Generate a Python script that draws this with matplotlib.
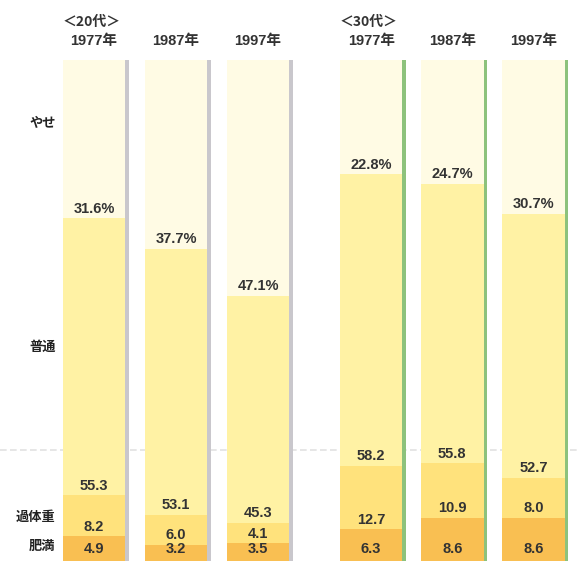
import matplotlib
matplotlib.use("Agg")
import matplotlib.pyplot as plt
import numpy as np

plt.rcParams['font.family'] = ['Noto Sans CJK JP', 'DejaVu Sans']
NUM_FONT = ['Liberation Sans', 'Noto Sans CJK JP']

# Body-type shares (%) by age group and survey year, stacked from the bottom
groups = ['＜20代＞', '＜30代＞']
years = ['1977年', '1987年', '1997年', '1977年', '1987年', '1997年']
himan = [4.9, 3.2, 3.5, 6.3, 8.6, 8.6]        # 肥満
kataiju = [8.2, 6.0, 4.1, 12.7, 10.9, 8.0]    # 過体重
futsu = [55.3, 53.1, 45.3, 58.2, 55.8, 52.7]  # 普通
yase = [31.6, 37.7, 47.1, 22.8, 24.7, 30.7]   # やせ
categories = ['肥満', '過体重', '普通', 'やせ']

pos = np.array([0, 1, 2, 3.38, 4.37, 5.36])
width = 0.76
colors = ['#F9BF52', '#FFE27C', '#FFF2A4', '#FFFBE4']
edge_colors = ['#C9C7CC'] * 3 + ['#8DC27C'] * 3

W, H = 579, 564
fig = plt.figure(figsize=(W / 100, H / 100), dpi=100)
fig.patch.set_facecolor('white')
ax = fig.add_axes([0, 3 / H, 1, (561 - 60) / H])
ax.set_xlim(-94 / 82, (W - 94) / 82)
ax.set_ylim(0, 100)
ax.axis('off')

layers = [himan, kataiju, futsu, yase]
bottom = np.zeros(len(pos))
totals = np.sum(layers, axis=0)

# thin coloured strip along the right side of each column
ax.bar(pos + width / 2 + 0.02, totals, width=0.045, color=edge_colors, zorder=1)

# faint crease across the page
ax.axhline(22.2, color='#E2E2E2', lw=1.2, ls=(0, (4, 2)), zorder=0.5)

for vals, col in zip(layers, colors):
    ax.bar(pos, vals, bottom=bottom, width=width, color=col, zorder=2)
    bottom = bottom + np.array(vals)

# value labels sit at the bottom of each segment
base = np.zeros(len(pos))
offsets = [1.0, 0.5, 0.5, 0.5]
for k, vals in enumerate(layers):
    for i, v in enumerate(vals):
        txt = f'{v:.1f}%' if k == 3 else f'{v:.1f}'
        ax.text(pos[i], base[i] + offsets[k], txt, ha='center', va='bottom',
                fontsize=10.5, fontweight='bold', color='#333333', zorder=3,
                family=NUM_FONT)
    base = base + np.array(vals)

# column headings
for i, y in enumerate(years):
    ax.text(pos[i], 103.7, y, ha='center', va='center', fontsize=10.5,
            fontweight='bold', color='#333333', clip_on=False, family=NUM_FONT)
for g, i in zip(groups, [0, 3]):
    ax.text(pos[i] - 0.03, 107.6, g, ha='center', va='center', fontsize=10,
            fontweight='bold', color='#333333', clip_on=False)

# row names on the left
row_y = [3.0, 8.8, 42.7, 87.4]
for name, y in zip(categories, row_y):
    ax.text(-0.47, y, name, ha='right', va='center', fontsize=9.5,
            fontweight='bold', color='#222222')

fig.savefig('out.png', dpi=100, facecolor='white')
